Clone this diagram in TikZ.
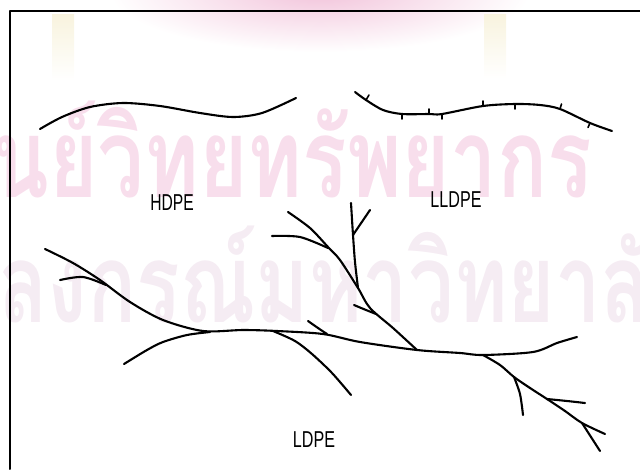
\documentclass[tikz,border=0pt]{standalone}
\usepackage{fontspec}
\setmainfont{Liberation Sans}
\newfontfamily\thaifont[Script=Thai]{Loma}
\definecolor{wmpink}{RGB}{248,222,236}
\definecolor{wmlav}{RGB}{245,236,243}
\definecolor{emblem}{RGB}{242,196,219}
\definecolor{tassel}{RGB}{248,243,222}
\begin{document}
\begin{tikzpicture}[x=1pt,y=-1pt,line cap=round,line join=round,
  chain/.style={line width=2.1pt,black},
  tickmark/.style={line width=1.6pt,black},
  frameline/.style={line width=2pt,black},
  lbl/.style={inner sep=0pt,font=\fontsize{23}{23}\selectfont},
  wm/.style={inner sep=0pt,anchor=base west}]
\useasboundingbox (0,0) rectangle (640,469);
\clip (0,0) rectangle (640,469);
% watermark
\shade[inner color=emblem,outer color=white] (320,-8) ellipse (210 and 60);
\shade[top color=tassel,bottom color=white] (52,14) rectangle (74,80);
\shade[top color=tassel,bottom color=white] (484,14) rectangle (506,78);
\node[wm,text=wmpink] (wmA) at (-8,197)
  {\thaifont\bfseries\fontsize{110}{110}\selectfont\resizebox{600pt}{\height}{นย์วิทยทรัพยากร}};
\node[wm,text=wmlav] (wmB) at (-2,322)
  {\thaifont\bfseries\fontsize{110}{110}\selectfont\resizebox{700pt}{\height}{ลงกรณ์มหาวิทยาลัย}};
% frame
\draw[frameline] (10,469) -- (10,11) -- (640,11);
% HDPE
\draw[chain] plot[smooth] coordinates {(40,129) (62,117) (90,107) (123,103) (160,106) (200,113) (233,117) (262,113) (296,98)};
% LLDPE
\draw[chain] plot[smooth] coordinates {(355,92) (366,100) (383,110) (402,114) (429,114) (442,114) (483,106) (515,104) (540,105) (560,109) (590,123) (612,131)};
\draw[tickmark] (366,100) -- (369,95);
\draw[tickmark] (402,114) -- (402,119);
\draw[tickmark] (429,114) -- (429,109);
\draw[tickmark] (442,114) -- (442,119);
\draw[tickmark] (483,106) -- (483,101);
\draw[tickmark] (515,104) -- (515,109);
\draw[tickmark] (560,109) -- (561.5,104);
\draw[tickmark] (590,123) -- (588,127.5);
% LDPE tree
\draw[chain] plot[smooth] coordinates {(45,249) (73,263) (100,280) (130,302) (163,320) (203,331) (243,330) (277,331) (323,334) (360,342) (417,350) (460,353) (483,355) (533,352) (557,343) (577,337)};
\draw[chain] plot[smooth] coordinates {(60,280) (83,277) (106,285)};
\draw[chain] plot[smooth] coordinates {(124,364) (147,350) (163,342) (187,335) (210,332)};
\draw[chain] plot[smooth] coordinates {(273,331) (295,341) (312,354) (332,373) (351,395)};
\draw[chain] plot[smooth] coordinates {(308,321) (318,328) (327,334)};
\draw[chain] plot[smooth] coordinates {(417,350) (393,328) (370,308) (358,288) (340,260) (328,247) (310,228) (288,212)};
\draw[chain] plot[smooth] coordinates {(272,236) (300,237) (328,248)};
\draw[chain] plot[smooth] coordinates {(354,305) (366,310) (376,314)};
\draw[chain] plot[smooth] coordinates {(351,203) (353,235) (355,262) (358,288)};
\draw[chain] (353,235) -- (370,210);
\draw[chain] plot[smooth] coordinates {(483,355) (500,365) (514,377) (530,388) (547,399) (565,411) (582,423) (605,434)};
\draw[chain] plot[smooth] coordinates {(582,423) (591,437) (600,451)};
\draw[chain] plot[smooth] coordinates {(514,377) (520,394) (523,415)};
\draw[chain] plot[smooth] coordinates {(547,399) (567,401) (585,403)};
% labels
\node[lbl] (hdpe) at (172,203) {\scalebox{0.68}[1]{HDPE}};
\node[lbl] (lldpe) at (456,200) {\scalebox{0.70}[1]{LLDPE}};
\node[lbl] (ldpe) at (314,440) {\scalebox{0.70}[1]{LDPE}};
\end{tikzpicture}
\end{document}
